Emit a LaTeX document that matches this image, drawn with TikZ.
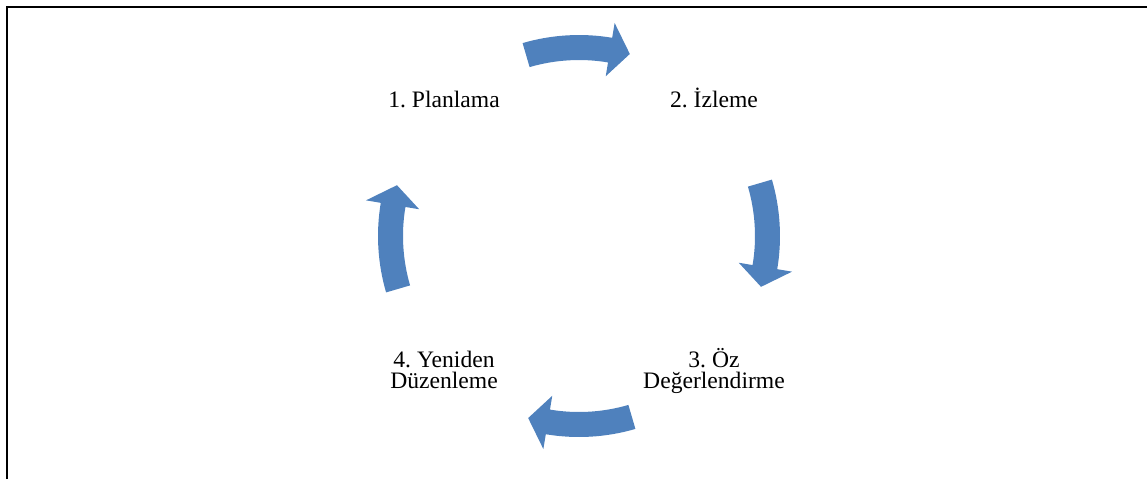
\documentclass[tikz,border=0pt]{standalone}
\usepackage{fontspec}
\setmainfont{Liberation Serif}
\frenchspacing
\definecolor{arrowblue}{RGB}{79,129,189}
\begin{document}
\begin{tikzpicture}[x=0.5pt,y=-0.5pt,
  label text/.style={inner sep=0pt, align=center, anchor=base,
    font=\fontsize{11.8}{10.5}\selectfont},
  cyclearrow/.style={fill=arrowblue, draw=none},
  frameline/.style={line width=1pt, black}]
\useasboundingbox (0,0) rectangle (1147,479);
% frame (top and left edges only)
\draw[frameline] (6.7,479) -- (6.7,7) -- (1146.5,7);
% text nodes
\node[label text] (plan) at (444,107) {1. Planlama};
\node[label text] (izle) at (714,107) {2. İzleme};
\node[label text] (oz) at (714,388) {3. Öz\\Değerlendirme};
\node[label text] (yeni) at (444,388) {4. Yeniden\\Düzenleme};
% circular arrows
\begin{scope}[shift={(579,236)}, x=0.5pt, y=0.5pt]
\foreach \c in {90,0,-90,-180}{
  \fill[cyclearrow] (\c+16.3:201) arc[start angle=\c+16.3, end angle=\c-9.5, radius=201]
    -- (\c-9.5:216) -- (\c-15.6:189) -- (\c-9.5:162) -- (\c-9.5:176)
    arc[start angle=\c-9.5, end angle=\c+16.3, radius=176] -- cycle;
}
\end{scope}
\end{tikzpicture}
\end{document}
